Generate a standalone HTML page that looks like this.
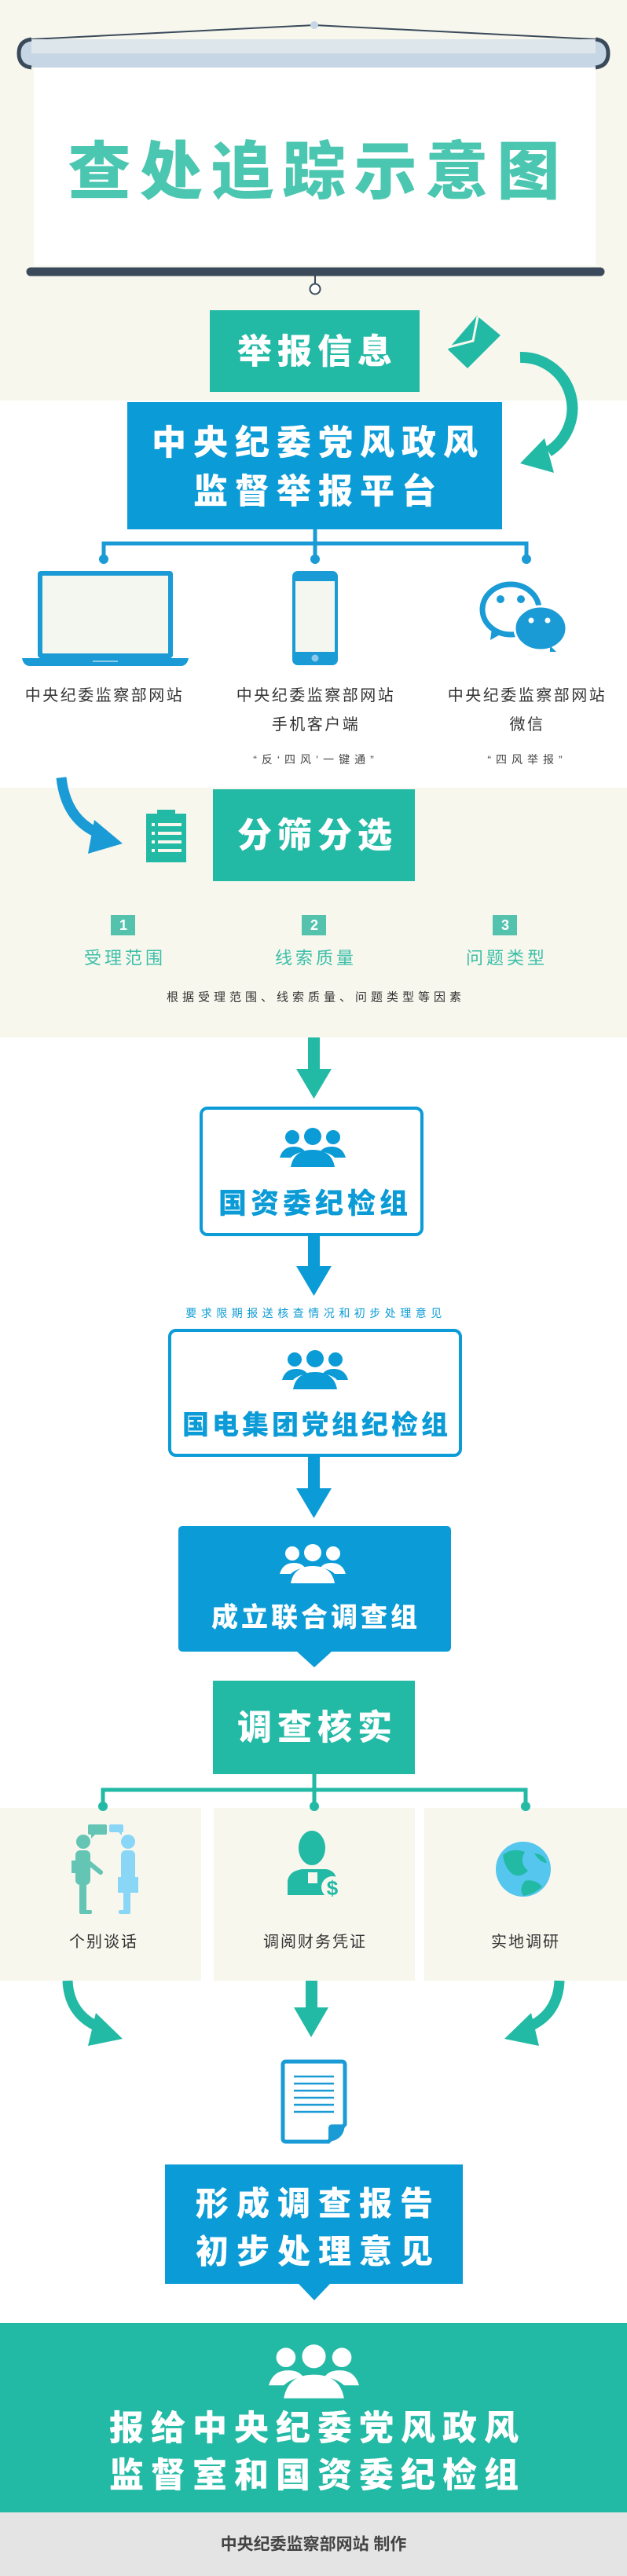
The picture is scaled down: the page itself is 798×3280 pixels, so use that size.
<!DOCTYPE html>
<html><head><meta charset="utf-8"><style>
html,body{margin:0;padding:0;background:#fff;}
svg{display:block;}
text{font-family:"Liberation Sans","Noto Sans CJK SC",sans-serif;}
.b{font-weight:900;}
</style></head><body>
<svg width="798" height="3280" viewBox="0 0 798 3280" xmlns="http://www.w3.org/2000/svg">
<defs>
<symbol id="ppl" viewBox="0 0 84 50">
<circle cx="16" cy="12" r="9"/><circle cx="42" cy="11" r="11"/><circle cx="68" cy="12" r="9"/>
<path d="M0,38 Q4,24 18,24 Q28,24 32,30 Q20,32 14,38 Z"/>
<path d="M84,38 Q80,24 66,24 Q56,24 52,30 Q64,32 70,38 Z"/>
<path d="M14,50 Q18,28 42,28 Q66,28 70,50 Z"/>
</symbol>
</defs>
<!-- top cream -->
<rect x="0" y="0" width="798" height="510" fill="#f7f7ee"/>
<!-- screen -->
<line x1="40" y1="50" x2="400" y2="32" stroke="#3a4a5a" stroke-width="2"/>
<line x1="758" y1="50" x2="400" y2="32" stroke="#3a4a5a" stroke-width="2"/>
<circle cx="400" cy="32" r="5" fill="#c6d6e4"/>
<rect x="43" y="86" width="715" height="252" fill="#fff"/>
<rect x="26" y="50" width="746" height="36" rx="18" fill="#c6d6e4"/>
<rect x="40" y="50" width="718" height="18" fill="#dde6ea"/>
<path d="M40,50 Q24,52 24,68 Q24,84 40,86" fill="none" stroke="#3a4a5a" stroke-width="5"/>
<path d="M758,50 Q774,52 774,68 Q774,84 758,86" fill="none" stroke="#3a4a5a" stroke-width="5"/>
<text x="405" y="219" text-anchor="middle" dominant-baseline="central" class="b" font-size="80" letter-spacing="11" fill="#4bc6b0">查处追踪示意图</text>
<line x1="39" y1="346" x2="764" y2="346" stroke="#3a4a5a" stroke-width="11" stroke-linecap="round"/>
<line x1="401" y1="346" x2="401" y2="362" stroke="#3a4a5a" stroke-width="2"/>
<circle cx="401" cy="368" r="6.5" fill="#fff" stroke="#3a4a5a" stroke-width="2"/>
<!-- 举报信息 -->
<rect x="267" y="395" width="267" height="104" fill="#22b9a5"/>
<text x="404" y="448" text-anchor="middle" dominant-baseline="central" class="b" font-size="44" letter-spacing="7" fill="#fff">举报信息</text>
<polygon points="570,445 607,402 637,427 595,469" fill="#22b9a5"/>
<polyline points="571,442 602,434 608,403" fill="none" stroke="#f7f7ee" stroke-width="3"/>
<path d="M662,455 A65,65 0 0 1 698,575" fill="none" stroke="#22b9a5" stroke-width="14"/>
<polygon points="662,590 693,558 705,602" fill="#22b9a5"/>
<!-- blue platform -->
<rect x="162" y="512" width="477" height="162" fill="#0b9bd6"/>
<text x="405" y="564" text-anchor="middle" dominant-baseline="central" class="b" font-size="44" letter-spacing="9" fill="#fff">中央纪委党风政风</text>
<text x="405" y="626" text-anchor="middle" dominant-baseline="central" class="b" font-size="44" letter-spacing="9" fill="#fff">监督举报平台</text>
<g stroke="#1a9bd6" stroke-width="5" fill="none">
<line x1="401" y1="674" x2="401" y2="692"/>
<polyline points="132,711 132,692 670,692 670,711"/>
<line x1="401" y1="692" x2="401" y2="711"/>
</g>
<g fill="#1a9bd6"><circle cx="132" cy="712" r="6"/><circle cx="401" cy="712" r="6"/><circle cx="670" cy="712" r="6"/></g>
<!-- laptop -->
<rect x="48" y="727" width="172" height="111" rx="4" fill="#1a9bd6"/>
<rect x="54" y="733" width="160" height="99" fill="#f4f7f0"/>
<path d="M28,838 L240,838 Q238,848 230,848 L38,848 Q30,848 28,838 Z" fill="#1a9bd6"/>
<rect x="118" y="841" width="32" height="2" fill="#8cc9e8"/>
<!-- phone -->
<rect x="372" y="727" width="58" height="120" rx="7" fill="#1a9bd6"/>
<rect x="376" y="740" width="50" height="90" fill="#f4f7f0"/>
<circle cx="401" cy="838" r="4.5" fill="#8cc9e8"/>
<!-- wechat -->
<ellipse cx="650" cy="776" rx="36" ry="32" fill="#fff" stroke="#1a9bd6" stroke-width="7"/>
<polygon points="626,800 624,815 640,806" fill="#1a9bd6"/>
<circle cx="637" cy="763" r="5" fill="#1a9bd6"/><circle cx="663" cy="763" r="5" fill="#1a9bd6"/>
<ellipse cx="688" cy="800" rx="33" ry="28" fill="#1a9bd6" stroke="#fff" stroke-width="3"/>
<polygon points="700,822 708,830 700,830" fill="#1a9bd6"/>
<circle cx="676" cy="790" r="3.5" fill="#fff"/><circle cx="697" cy="790" r="3.5" fill="#fff"/>
<g font-size="20" fill="#333" text-anchor="middle" dominant-baseline="central" letter-spacing="2.5">
<text x="133" y="886">中央纪委监察部网站</text>
<text x="402" y="886">中央纪委监察部网站</text>
<text x="402" y="923">手机客户端</text>
<text x="671" y="886">中央纪委监察部网站</text>
<text x="671" y="923">微信</text>
</g>
<g font-size="14" fill="#444" text-anchor="middle" dominant-baseline="central" letter-spacing="6">
<text x="402" y="967">“反‘四风’一键通”</text>
<text x="671" y="967">“四风举报”</text>
</g>
<!-- 分筛 section -->
<rect x="0" y="1003" width="798" height="318" fill="#f7f7ee"/>
<path d="M78,990 Q84,1045 128,1062" fill="none" stroke="#1a9bd6" stroke-width="13"/>
<polygon points="120,1044 156,1074 112,1087" fill="#1a9bd6"/>
<g fill="#22b9a5">
<rect x="186" y="1036" width="51" height="62"/>
<rect x="200" y="1031" width="23" height="8"/>
</g>
<g fill="#f7f7ee">
<rect x="193" y="1048" width="4" height="4"/><rect x="201" y="1048" width="30" height="4"/>
<rect x="193" y="1059" width="4" height="4"/><rect x="201" y="1059" width="30" height="4"/>
<rect x="193" y="1070" width="4" height="4"/><rect x="201" y="1070" width="30" height="4"/>
<rect x="193" y="1081" width="4" height="4"/><rect x="201" y="1081" width="30" height="4"/>
</g>
<rect x="271" y="1005" width="257" height="117" fill="#22b9a5"/>
<text x="404" y="1064" text-anchor="middle" dominant-baseline="central" class="b" font-size="44" letter-spacing="7" fill="#fff">分筛分选</text>
<g fill="#55c2ae"><rect x="141" y="1165" width="31" height="26"/><rect x="384" y="1165" width="31" height="26"/><rect x="627" y="1165" width="31" height="26"/></g>
<g fill="#fff" font-size="18" font-weight="700" text-anchor="middle" dominant-baseline="central">
<text x="157" y="1178">1</text><text x="400" y="1178">2</text><text x="643" y="1178">3</text></g>
<g fill="#3cbfa8" font-size="22" text-anchor="middle" dominant-baseline="central" letter-spacing="4">
<text x="159" y="1220">受理范围</text><text x="402" y="1220">线索质量</text><text x="645" y="1220">问题类型</text></g>
<text x="402" y="1270" text-anchor="middle" dominant-baseline="central" font-size="15" letter-spacing="5" fill="#333">根据受理范围、线索质量、问题类型等因素</text>
<!-- arrow teal -->
<rect x="392" y="1321" width="15" height="42" fill="#22b9a5"/>
<polygon points="377,1361 422,1361 399.5,1399" fill="#22b9a5"/>
<!-- box1 -->
<rect x="256" y="1411" width="281" height="161" rx="8" fill="#fff" stroke="#0b9bd6" stroke-width="4"/>
<use href="#ppl" x="356" y="1436" width="84" height="50" fill="#0b9bd6"/>
<text x="401" y="1532" text-anchor="middle" dominant-baseline="central" class="b" font-size="36" letter-spacing="5" fill="#0b9bd6">国资委纪检组</text>
<rect x="392" y="1574" width="15" height="40" fill="#0b9bd6"/>
<polygon points="377,1612 422,1612 399.5,1650" fill="#0b9bd6"/>
<text x="402" y="1672" text-anchor="middle" dominant-baseline="central" font-size="14" letter-spacing="5.5" fill="#0b9bd6">要求限期报送核查情况和初步处理意见</text>
<!-- box2 -->
<rect x="216" y="1694" width="370" height="159" rx="8" fill="#fff" stroke="#0b9bd6" stroke-width="4"/>
<use href="#ppl" x="359" y="1719" width="84" height="50" fill="#0b9bd6"/>
<text x="403" y="1815" text-anchor="middle" dominant-baseline="central" class="b" font-size="34" letter-spacing="4" fill="#0b9bd6">国电集团党组纪检组</text>
<rect x="392" y="1855" width="15" height="42" fill="#0b9bd6"/>
<polygon points="377,1895 422,1895 399.5,1933" fill="#0b9bd6"/>
<!-- box3 -->
<path d="M233,1943 L568,1943 Q574,1943 574,1949 L574,2097 Q574,2103 568,2103 L422,2103 L400,2123 L378,2103 L233,2103 Q227,2103 227,2097 L227,1949 Q227,1943 233,1943 Z" fill="#0b9bd6"/>
<use href="#ppl" x="356" y="1966" width="84" height="50" fill="#fff"/>
<text x="402" y="2060" text-anchor="middle" dominant-baseline="central" class="b" font-size="34" letter-spacing="4" fill="#fff">成立联合调查组</text>
<!-- 调查核实 -->
<rect x="271" y="2140" width="257" height="119" fill="#22b9a5"/>
<text x="404" y="2200" text-anchor="middle" dominant-baseline="central" class="b" font-size="44" letter-spacing="7" fill="#fff">调查核实</text>
<g stroke="#22b9a5" stroke-width="5" fill="none">
<line x1="400" y1="2259" x2="400" y2="2300"/>
<polyline points="131,2300 131,2279 669,2279 669,2300"/>
</g>
<g fill="#f7f7ee"><rect x="0" y="2302" width="256" height="220"/><rect x="272" y="2302" width="256" height="220"/><rect x="540" y="2302" width="258" height="220"/></g>
<g fill="#22b9a5"><circle cx="131" cy="2300" r="6"/><circle cx="400" cy="2300" r="6"/><circle cx="669" cy="2300" r="6"/></g>
<!-- talkers -->
<rect x="112" y="2323" width="24" height="13" rx="2" fill="#64c5b5"/>
<polygon points="116,2335 122,2335 116,2341" fill="#64c5b5"/>
<rect x="139" y="2323" width="18" height="10" rx="2" fill="#8ad6f7"/>
<polygon points="150,2332 155,2332 155,2337" fill="#8ad6f7"/>
<g fill="#64c5b5">
<circle cx="106" cy="2345" r="9"/>
<rect x="96" y="2356" width="19" height="44" rx="6"/>
<rect x="91" y="2369" width="7" height="16"/>
<line x1="112" y1="2371" x2="128" y2="2384" stroke="#64c5b5" stroke-width="6" stroke-linecap="round"/>
<rect x="101" y="2396" width="9" height="40"/>
<rect x="101" y="2432" width="16" height="5" rx="2"/>
</g>
<g fill="#8ad6f7">
<circle cx="163" cy="2345" r="9"/>
<rect x="154" y="2356" width="18" height="40" rx="6"/>
<rect x="150" y="2390" width="26" height="20"/>
<rect x="157" y="2408" width="9" height="28"/>
<rect x="151" y="2432" width="15" height="5" rx="2"/>
</g>
<!-- businessman -->
<g fill="#22b9a5">
<ellipse cx="397" cy="2353" rx="17" ry="22"/>
<path d="M366,2413 L366,2395 Q368,2382 385,2380 L415,2380 Q428,2382 428,2395 L428,2413 Z"/>
</g>
<rect x="392" y="2384" width="12" height="14" fill="#f7f7ee"/>
<circle cx="423" cy="2403" r="14" fill="#f7f7ee"/>
<text x="423" y="2404" text-anchor="middle" dominant-baseline="central" font-size="26" font-weight="700" fill="#22b9a5">$</text>
<!-- globe -->
<circle cx="666" cy="2380" r="35" fill="#55c6ee"/>
<path d="M640,2362 Q652,2352 668,2358 Q660,2372 672,2382 Q662,2392 652,2386 Q642,2378 640,2362 Z" fill="#22b9a5"/>
<path d="M668,2395 Q680,2392 690,2402 Q680,2412 666,2414 Q660,2405 668,2395 Z" fill="#22b9a5"/>
<path d="M680,2360 Q692,2360 696,2372 Q688,2372 680,2360 Z" fill="#22b9a5"/>
<g font-size="20" fill="#333" text-anchor="middle" dominant-baseline="central" letter-spacing="2">
<text x="132" y="2473">个别谈话</text><text x="401" y="2473">调阅财务凭证</text><text x="669" y="2473">实地调研</text></g>
<!-- arrows -->
<path d="M86,2522 Q88,2566 128,2582" fill="none" stroke="#22b9a5" stroke-width="13"/>
<polygon points="122,2563 156,2596 112,2605" fill="#22b9a5"/>
<path d="M712,2522 Q710,2566 670,2582" fill="none" stroke="#22b9a5" stroke-width="13"/>
<polygon points="676,2563 642,2596 686,2605" fill="#22b9a5"/>
<rect x="389" y="2522" width="15" height="36" fill="#22b9a5"/>
<polygon points="374,2556 418,2556 396,2594" fill="#22b9a5"/>
<!-- document -->
<path d="M364,2625 L435,2625 Q439,2625 439,2629 L439,2705 L418,2727 L364,2727 Q360,2727 360,2723 L360,2629 Q360,2625 364,2625 Z" fill="#fff" stroke="#1a9bd6" stroke-width="5"/>
<path d="M418,2727 L418,2710 Q418,2705 423,2705 L439,2705 Q438,2725 418,2727 Z" fill="#1a9bd6"/>
<g stroke="#1a9bd6" stroke-width="2.5"><line x1="374" y1="2644" x2="425" y2="2644"/><line x1="374" y1="2653" x2="425" y2="2653"/><line x1="374" y1="2662" x2="425" y2="2662"/><line x1="374" y1="2671" x2="425" y2="2671"/><line x1="374" y1="2680" x2="425" y2="2680"/><line x1="374" y1="2689" x2="425" y2="2689"/></g>
<!-- report box -->
<path d="M210,2756 L589,2756 L589,2908 L420,2908 L400,2929 L380,2908 L210,2908 Z" fill="#0b9bd6"/>
<text x="405" y="2806" text-anchor="middle" dominant-baseline="central" class="b" font-size="42" letter-spacing="10" fill="#fff">形成调查报告</text>
<text x="405" y="2867" text-anchor="middle" dominant-baseline="central" class="b" font-size="42" letter-spacing="10" fill="#fff">初步处理意见</text>
<!-- teal banner -->
<rect x="0" y="2958" width="798" height="241" fill="#22b9a5"/>
<use href="#ppl" x="342" y="2985" width="115" height="69" fill="#fff"/>
<text x="404" y="3092" text-anchor="middle" dominant-baseline="central" class="b" font-size="44" letter-spacing="9" fill="#fff">报给中央纪委党风政风</text>
<text x="404" y="3152" text-anchor="middle" dominant-baseline="central" class="b" font-size="44" letter-spacing="9" fill="#fff">监督室和国资委纪检组</text>
<rect x="0" y="3199" width="798" height="81" fill="#e4e4e4"/>
<text x="399" y="3240" text-anchor="middle" dominant-baseline="central" font-size="21" font-weight="700" fill="#444">中央纪委监察部网站  制作</text>
</svg>
</body></html>
